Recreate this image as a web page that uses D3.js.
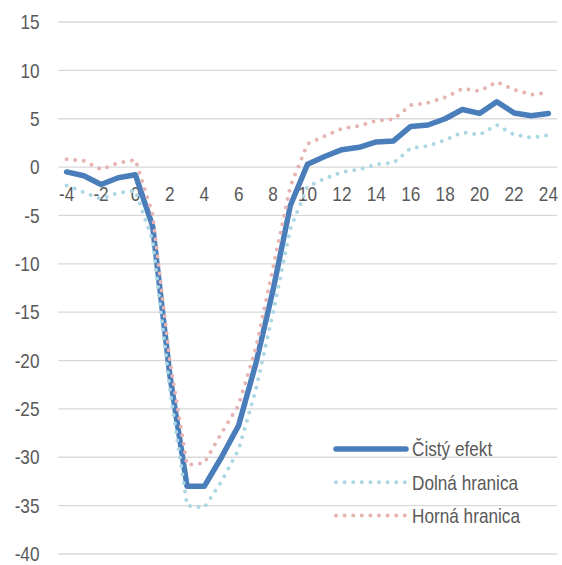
<!DOCTYPE html>
<html>
<head>
<meta charset="utf-8">
<script src="https://cdn.jsdelivr.net/npm/d3@7"></script>
<style>
  body { margin: 0; background: #fff; }
  svg text { font-family: "Liberation Sans Narrow", "Arial Narrow", "Liberation Sans", Arial, sans-serif; fill: #595959; }
</style>
</head>
<body>
<svg id="chart" width="562" height="565"></svg>
<script>
// categories (months around the event)
let cats = [-4, -3, -2, -1, 0, 1, 2, 3, 4, 5, 6, 7, 8, 9, 10, 11, 12, 13, 14, 15, 16, 17, 18, 19, 20, 21, 22, 23, 24]

let cisty = [-0.5, -0.9, -1.8, -1.1, -0.8, -6.1, -21.5, -33.0, -33.0, -30.0, -26.7, -20.3, -12.7, -4.0,
    0.3, 1.1, 1.8, 2.05, 2.6, 2.7, 4.2, 4.35, 5.0, 5.95, 5.55, 6.75, 5.6, 5.3, 5.55]

let dolna = [-1.9, -2.6, -3.3, -2.65, -2.45, -7.6, -23.0, -35.0, -35.2, -32.5, -29.2, -23.0, -15.0, -6.4,
    -2.0, -1.2, -0.5, -0.25, 0.3, 0.45, 1.95, 2.2, 2.8, 3.6, 3.35, 4.35, 3.35, 3.05, 3.3]

let horna = [0.8, 0.65, -0.25, 0.45, 0.75, -4.9, -20.0, -30.8, -30.6, -27.5, -24.6, -18.7, -10.4, -2.0,
    2.4, 3.2, 4.0, 4.25, 4.8, 4.95, 6.4, 6.65, 7.2, 8.1, 7.85, 8.8, 8.0, 7.5, 7.7]

let yTicks = [15, 10, 5, 0, -5, -10, -15, -20, -25, -30, -35, -40]
let xLabels = [-4, -2, 0, 2, 4, 6, 8, 10, 12, 14, 16, 18, 20, 22, 24]

let series = [
    { name: 'Čistý efekt', values: cisty, color: '#4a7ebb', width: 5.5, dash: null },
    { name: 'Dolná hranica', values: dolna, color: '#acd7e4', width: 4, dash: '0 8.6' },
    { name: 'Horná hranica', values: horna, color: '#e6b4b3', width: 4, dash: '0 8.6' }
]

let svg = d3.select('#chart'),
    plotLeft = 58,
    plotRight = 557,
    plotTop = 22,
    plotBottom = 554,
    squeeze = 0.86   // the original font is a narrow one

let x = d3.scaleBand().domain(cats).range([plotLeft, plotRight]).padding(0)
let y = d3.scaleLinear().domain([-40, 15]).range([plotBottom, plotTop])
let cx = d => x(d) + x.bandwidth() / 2

function place(px, py) {
    return `translate(${px},${py}) scale(${squeeze},1)`
}

// horizontal gridlines
svg.append('g')
    .selectAll('line')
    .data(yTicks)
    .join('line')
    .attr('x1', plotLeft)
    .attr('x2', plotRight)
    .attr('y1', d => y(d))
    .attr('y2', d => y(d))
    .attr('stroke', '#d9d9d9')
    .attr('stroke-width', 1.3)

// y labels
svg.append('g')
    .selectAll('text')
    .data(yTicks)
    .join('text')
    .attr('transform', d => place(39.5, y(d)))
    .attr('dy', '0.36em')
    .attr('text-anchor', 'end')
    .attr('font-size', 20)
    .text(d => String(d))

// x labels sit just under the zero line
svg.append('g')
    .selectAll('text')
    .data(xLabels)
    .join('text')
    .attr('transform', d => place(cx(d), y(0) + 34))
    .attr('text-anchor', 'middle')
    .attr('font-size', 20)
    .text(d => String(d))

let line = d3.line()
    .x((d, i) => cx(cats[i]))
    .y(d => y(d))

series.forEach(s => {
    svg.append('path')
        .datum(s.values)
        .attr('d', line)
        .attr('fill', 'none')
        .attr('stroke', s.color)
        .attr('stroke-width', s.width)
        .attr('stroke-linejoin', 'round')
        .attr('stroke-linecap', 'round')
        .attr('stroke-dasharray', s.dash)
})

// legend
let leg = svg.append('g')
series.forEach((s, i) => {
    let ly = 449 + i * 33.3
    leg.append('line')
        .attr('x1', 336)
        .attr('x2', 406)
        .attr('y1', ly)
        .attr('y2', ly)
        .attr('stroke', s.color)
        .attr('stroke-width', s.width)
        .attr('stroke-linecap', 'round')
        .attr('stroke-dasharray', s.dash)
    leg.append('text')
        .attr('transform', place(412, ly))
        .attr('dy', '0.36em')
        .attr('font-size', 20)
        .text(s.name)
})
</script>
</body>
</html>
